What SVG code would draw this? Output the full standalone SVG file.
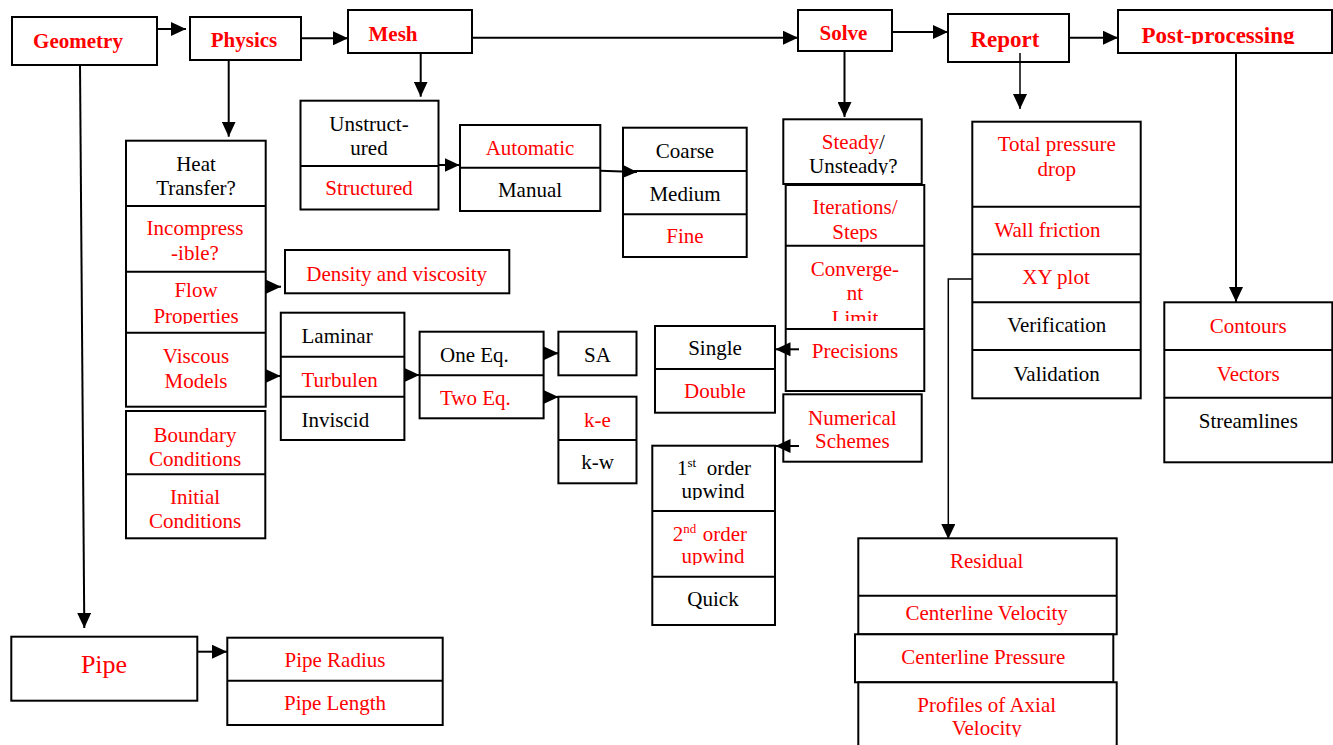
<svg xmlns="http://www.w3.org/2000/svg" width="1333" height="745" viewBox="0 0 1333 745">
<style>
.box{fill:#fff;stroke:#000;stroke-width:2}
.dv{stroke:#000;stroke-width:2;fill:none}
.t{font-family:"Liberation Serif","Times New Roman",serif;font-size:21px;text-anchor:middle}
.l{text-anchor:start}
.r{fill:#f00}
.k{fill:#000}
.h{font-family:"Liberation Serif","Times New Roman",serif;font-size:21px;font-weight:bold;fill:#f00;text-anchor:middle}
.c{fill:none;stroke:#000;stroke-width:2;marker-end:url(#ah)}
.thin{stroke-width:1.5}
</style>
<defs>
<marker id="ah" markerUnits="userSpaceOnUse" markerWidth="15" markerHeight="14" refX="15" refY="7" orient="auto">
<path d="M0,0 L15,7 L0,14 Z" fill="#000"/>
</marker>
<clipPath id="cPost"><rect x="1118" y="10" width="214" height="34"/></clipPath>
<clipPath id="cFlow"><rect x="126" y="272" width="140" height="52"/></clipPath>
<clipPath id="cSteady"><rect x="783" y="119" width="139" height="56"/></clipPath>
<clipPath id="cIter"><rect x="785" y="185" width="139" height="57"/></clipPath>
<clipPath id="cConv"><rect x="785" y="246" width="139" height="75"/></clipPath>
<clipPath id="cUp1"><rect x="652" y="446" width="123" height="54"/></clipPath>
<clipPath id="cUp2"><rect x="652" y="511" width="123" height="54"/></clipPath>
<clipPath id="cProf"><rect x="858" y="682" width="258" height="55"/></clipPath>
</defs>
<rect width="1333" height="745" fill="#fff"/>

<g id="geometry">
<rect class="box" x="12" y="17" width="145" height="48"/>
<text class="h" x="78" y="48">Geometry</text>
</g>
<g id="physics">
<rect class="box" x="190" y="17" width="111" height="43"/>
<text class="h" x="244" y="46.7">Physics</text>
</g>
<g id="mesh">
<rect class="box" x="348" y="10" width="124" height="43"/>
<text class="h" x="393" y="40.7">Mesh</text>
</g>
<g id="solve">
<rect class="box" x="798" y="10" width="94" height="41"/>
<text class="h" x="843.5" y="40">Solve</text>
</g>
<g id="report">
<rect class="box" x="948" y="14" width="121" height="48"/>
<text class="h" x="1005" y="47" style="font-size:23px">Report</text>
</g>
<g id="postprocessing">
<rect class="box" x="1118" y="10" width="214" height="43"/>
<text class="h" x="1218" y="43" style="font-size:23px" clip-path="url(#cPost)">Post-processing</text>
</g>

<g id="physics-options">
<rect class="box" x="126" y="140.7" width="139.7" height="266"/>
<path class="dv" d="M126,206 H265.7 M126,271.7 H265.7 M126,332.7 H265.7"/>
<text class="t k" x="196" y="171">Heat</text>
<text class="t k" x="196" y="195">Transfer?</text>
<text class="t r" x="195" y="235">Incompress</text>
<text class="t r" x="195" y="260">-ible?</text>
<g clip-path="url(#cFlow)">
<text class="t r" x="196" y="297.3">Flow</text>
<text class="t r" x="196" y="322.7">Properties</text>
</g>
<text class="t r" x="196" y="362.7">Viscous</text>
<text class="t r" x="196" y="387.7">Models</text>
</g>
<g id="conditions">
<rect class="box" x="126" y="411" width="139.3" height="127.3"/>
<path class="dv" d="M126,474.3 H265.3"/>
<text class="t r" x="195" y="441.7">Boundary</text>
<text class="t r" x="195" y="465.7">Conditions</text>
<text class="t r" x="195" y="504.3">Initial</text>
<text class="t r" x="195" y="528.3">Conditions</text>
</g>
<g id="density">
<rect class="box" x="285" y="250" width="224.3" height="43.3"/>
<text class="t r" x="396.7" y="280.5">Density and viscosity</text>
</g>

<g id="mesh-type">
<rect class="box" x="300.5" y="100.7" width="138" height="108.8"/>
<path class="dv" d="M300.5,166 H438.5"/>
<text class="t k" x="369" y="131">Unstruct-</text>
<text class="t k" x="369" y="155">ured</text>
<text class="t r" x="369" y="195">Structured</text>
</g>
<g id="mesh-method">
<rect class="box" x="460" y="125" width="140.3" height="86"/>
<path class="dv" d="M460,167.7 H600.3"/>
<text class="t r" x="530" y="155">Automatic</text>
<text class="t k" x="530" y="197.3">Manual</text>
</g>
<g id="mesh-size">
<rect class="box" x="623" y="127.7" width="123.7" height="129.3"/>
<path class="dv" d="M623,171 H746.7 M623,214.3 H746.7"/>
<text class="t k" x="685" y="157.7">Coarse</text>
<text class="t k" x="685" y="200.7">Medium</text>
<text class="t r" x="685" y="243.3">Fine</text>
</g>

<g id="viscous-models">
<rect class="box" x="280.8" y="312.7" width="123.6" height="127.3"/>
<path class="dv" d="M280.8,356.7 H404.4 M280.8,396.7 H404.4"/>
<text class="t k l" x="301.5" y="343.3">Laminar</text>
<text class="t r l" x="301.5" y="387.3">Turbulen</text>
<text class="t k l" x="301.5" y="426.7">Inviscid</text>
</g>
<g id="turbulence-eq">
<rect class="box" x="419.6" y="331.7" width="124" height="86.6"/>
<path class="dv" d="M419.6,375.3 H543.6"/>
<text class="t k l" x="440" y="361.7">One Eq.</text>
<text class="t r l" x="440" y="405">Two Eq.</text>
</g>
<g id="sa">
<rect class="box" x="558.4" y="331.7" width="78.1" height="43.6"/>
<text class="t k" x="597.5" y="361.7">SA</text>
</g>
<g id="two-eq-models">
<rect class="box" x="558.4" y="396.7" width="78.1" height="86.6"/>
<path class="dv" d="M558.4,440 H636.5"/>
<text class="t r" x="597.5" y="426.7">k-e</text>
<text class="t k" x="597.5" y="469.3">k-w</text>
</g>

<g id="steady">
<rect class="box" x="783.3" y="119.3" width="138.4" height="64.7"/>
<g clip-path="url(#cSteady)">
<text class="t" x="853.3" y="149"><tspan class="r">Steady</tspan><tspan class="k">/</tspan></text>
<text class="t k" x="853.3" y="173.3">Unsteady?</text>
</g>
</g>
<g id="solver-settings">
<rect class="box" x="785.7" y="185" width="138.6" height="206"/>
<path class="dv" d="M785.7,245.7 H924.3 M785.7,329 H924.3"/>
<g clip-path="url(#cIter)">
<text class="t r" x="855" y="214.3">Iterations/</text>
<text class="t r" x="855" y="239.3">Steps</text>
</g>
<g clip-path="url(#cConv)">
<text class="t r" x="855" y="275.7">Converge-</text>
<text class="t r" x="855" y="300">nt</text>
<text class="t r" x="855" y="325">Limit</text>
</g>
<text class="t r" x="855" y="358.3">Precisions</text>
</g>
<g id="precision">
<rect class="box" x="655" y="326" width="120" height="86.7"/>
<path class="dv" d="M655,369 H775"/>
<text class="t k" x="715" y="355">Single</text>
<text class="t r" x="715" y="398.3">Double</text>
</g>
<g id="numerical">
<rect class="box" x="783.3" y="394.3" width="138.4" height="67.4"/>
<text class="t r" x="852.3" y="425">Numerical</text>
<text class="t r" x="852.3" y="448.3">Schemes</text>
</g>
<g id="schemes">
<rect class="box" x="652.3" y="445.7" width="122.7" height="179.3"/>
<path class="dv" d="M652.3,511 H775 M652.3,576.7 H775"/>
<g clip-path="url(#cUp1)">
<text class="t k l" x="677" y="475">1<tspan style="font-size:13px" dy="-8">st</tspan><tspan x="706.7" dy="8">order</tspan></text>
<text class="t k" x="713" y="498.3">upwind</text>
</g>
<g clip-path="url(#cUp2)">
<text class="t r l" x="672.7" y="540.7">2<tspan style="font-size:13px" dy="-8">nd</tspan><tspan x="702.7" dy="8">order</tspan></text>
<text class="t r" x="713" y="563.3">upwind</text>
</g>
<text class="t k" x="713" y="605.7">Quick</text>
</g>

<g id="report-items">
<rect class="box" x="972.3" y="121.7" width="168.4" height="276.6"/>
<path class="dv" d="M972.3,206.7 H1140.7 M972.3,254.3 H1140.7 M972.3,302.3 H1140.7 M972.3,350 H1140.7"/>
<text class="t r" x="1056.7" y="150.7">Total pressure</text>
<text class="t r" x="1056.7" y="175.7">drop</text>
<text class="t r" x="1047.5" y="236.7">Wall friction</text>
<text class="t r" x="1056" y="284.3">XY plot</text>
<text class="t k" x="1056.7" y="332.3">Verification</text>
<text class="t k" x="1056.7" y="380.7">Validation</text>
</g>
<g id="post-items">
<rect class="box" x="1164.3" y="302.3" width="168" height="160"/>
<path class="dv" d="M1164.3,350 H1332.3 M1164.3,397.7 H1332.3"/>
<text class="t r" x="1248.3" y="332.7">Contours</text>
<text class="t r" x="1248.3" y="380.7">Vectors</text>
<text class="t k" x="1248.3" y="428.3">Streamlines</text>
</g>
<g id="xy-plots">
<rect class="box" x="858.3" y="538.3" width="258.4" height="96"/>
<path class="dv" d="M858.3,595.7 H1116.7"/>
<text class="t r" x="986.7" y="568.3">Residual</text>
<text class="t r" x="986.7" y="620">Centerline Velocity</text>
</g>
<g id="centerline-pressure">
<rect class="box" x="855" y="634.3" width="258.3" height="48"/>
<text class="t r" x="983.3" y="664">Centerline Pressure</text>
</g>
<g id="profiles">
<rect class="box" x="858.3" y="682.3" width="258.4" height="70"/>
<g clip-path="url(#cProf)">
<text class="t r" x="986.7" y="711.7">Profiles of Axial</text>
<text class="t r" x="986.7" y="735">Velocity</text>
</g>
</g>

<g id="pipe">
<rect class="box" x="11.3" y="636.7" width="186" height="64"/>
<text class="t r" x="104" y="672.7" style="font-size:26px">Pipe</text>
</g>
<g id="pipe-dims">
<rect class="box" x="227.3" y="637.7" width="215.4" height="87.3"/>
<path class="dv" d="M227.3,680.7 H442.7"/>
<text class="t r" x="335" y="667.3">Pipe Radius</text>
<text class="t r" x="335" y="710">Pipe Length</text>
</g>

<g id="connectors">
<path class="c" d="M157,29 L186,29"/>
<path class="c" d="M301,38.3 L348,38.3"/>
<path class="c" d="M472,37.7 L798,37.7"/>
<path class="c" d="M892,32 L948,32"/>
<path class="c" d="M1069,37.7 L1118,37.7"/>
<path class="c" d="M80,65 L84.3,628"/>
<path class="c" d="M228.7,60 L228.7,136.7"/>
<path class="c" d="M420.7,53 L420.7,96.7"/>
<path class="c" d="M844.5,51 L844.5,117"/>
<path class="c thin" d="M1020,53 L1020,109"/>
<path class="c" d="M1236,53 L1236,302"/>
<path class="c" d="M438.5,165 L459.5,165"/>
<path class="c" d="M600.3,170.7 L637,172"/>
<path class="c" d="M265.7,286.7 L281,286.7"/>
<path class="c" d="M265,376 L280.5,376"/>
<path class="c" d="M404.4,375 L419.5,375"/>
<path class="c" d="M543.6,353.3 L558.4,353.3"/>
<path class="c" d="M543.6,397 L558.4,397"/>
<path class="c" d="M799,349.3 L775.5,349.3"/>
<path class="c" d="M799,446 L775.5,446"/>
<path class="c thin" d="M972.3,279 L948.3,279 L948.3,539"/>
<path class="c" d="M197.3,651.7 L227,651.7"/>
</g>
</svg>
